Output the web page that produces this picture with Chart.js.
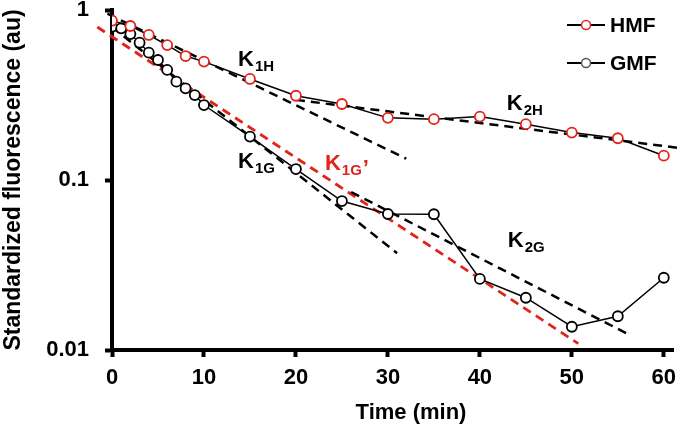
<!doctype html>
<html>
  <head>
    <meta charset="UTF-8">
    <title>Standardized fluorescence</title>
    <style>
      html, body { margin: 0; padding: 0; background: #fff; }
    </style>
  </head>
  <body>
    <canvas id="myChart" width="685" height="429"></canvas>

    <script src="https://cdn.jsdelivr.net/npm/chart.js@4.4.1/dist/chart.umd.min.js"></script>
    <script>
      // measured points (time in min, standardized fluorescence)
      var time_h = [0, 2, 4, 6, 8, 10, 15, 20, 25, 30, 35, 40, 45, 50, 55, 60];
      var hmf = [0.865, 0.805, 0.713, 0.622, 0.536, 0.497, 0.393, 0.313, 0.280, 0.232, 0.228, 0.236, 0.213, 0.190, 0.176, 0.139];

      var time_g = [0, 1, 2, 3, 4, 5, 6, 7, 8, 9, 10, 15, 20, 25, 30, 35, 40, 45, 50, 55, 60];
      var gmf = [0.797, 0.780, 0.722, 0.642, 0.561, 0.508, 0.444, 0.379, 0.346, 0.316, 0.276, 0.180, 0.116, 0.0752, 0.0631, 0.0629, 0.0262, 0.0203, 0.0137, 0.0158, 0.0266];

      // fitted decay lines (two end points each)
      var k1h_time = [-0.5, 32];
      var k1h_vals = [0.951, 0.1334];
      var k2h_time = [20, 62];
      var k2h_vals = [0.296, 0.1535];
      var k1g_time = [0, 31];
      var k1g_vals = [0.794, 0.0371];
      var k2g_time = [26, 56.3];
      var k2g_vals = [0.085, 0.01225];
      var k1gp_time = [-1.6, 50.7];
      var k1gp_vals = [0.794, 0.0109];

      var x_ticks = [0, 10, 20, 30, 40, 50, 60];
      var y_ticks = [0.01, 0.1, 1];
      var y_tick_labels = ['0.01', '0.1', '1'];

      var RED = '#e2231a';
      var FONT = '"Liberation Sans", Arial, sans-serif';
      Chart.defaults.font.family = FONT;

      function pts(xs, ys){
        return xs.map(function(x, i){ return {x: x, y: ys[i]}; });
      }

      function fitLine(xs, ys, color, width){
        return {
          data: pts(xs, ys),
          borderColor: color,
          borderWidth: width,
          borderDash: [9, 6],
          pointRadius: 0,
          fill: false,
          clip: false
        };
      }

      // K labels, legend and x title
      var extras = {
        id: 'extras',
        afterDatasetsDraw: function(chart){
          var ctx = chart.ctx;
          var xs = chart.scales.x, ys = chart.scales.y;
          var labels = [
            {sub: '1H', t: 13.7, v: 0.4685, c: '#000'},
            {sub: '2H', t: 42.93, v: 0.258, c: '#000'},
            {sub: '1G', t: 13.7, v: 0.1177, c: '#000'},
            {sub: '2G', t: 43.04, v: 0.0403, c: '#000'},
            {sub: '1G', t: 23.15, v: 0.1145, c: RED, prime: true}
          ];
          ctx.save();
          ctx.textBaseline = 'alphabetic';
          ctx.textAlign = 'left';
          labels.forEach(function(l){
            var px = xs.getPixelForValue(l.t);
            var py = ys.getPixelForValue(l.v);
            ctx.fillStyle = l.c;
            ctx.font = 'bold 22px ' + FONT;
            ctx.fillText('K', px, py);
            var kw = ctx.measureText('K').width;
            ctx.font = 'bold 15px ' + FONT;
            ctx.fillText(l.sub, px + kw + 1, py + 5);
            var sw = ctx.measureText(l.sub).width;
            if(l.prime){
              ctx.font = 'bold 22px ' + FONT;
              ctx.fillText('\u2019', px + kw + sw + 2, py + 5);
            }
          });

          // legend
          var items = [
            {text: 'HMF', color: RED, y: 25},
            {text: 'GMF', color: '#555', y: 63}
          ];
          items.forEach(function(it){
            ctx.strokeStyle = '#000';
            ctx.lineWidth = 2;
            ctx.beginPath();
            ctx.moveTo(567, it.y);
            ctx.lineTo(605, it.y);
            ctx.stroke();
            ctx.beginPath();
            ctx.arc(586, it.y, 4.5, 0, Math.PI * 2);
            ctx.fillStyle = '#fff';
            ctx.fill();
            ctx.lineWidth = 1.5;
            ctx.strokeStyle = it.color;
            ctx.stroke();
            ctx.fillStyle = '#000';
            ctx.font = 'bold 21px ' + FONT;
            ctx.textBaseline = 'middle';
            ctx.fillText(it.text, 610, it.y + 1);
          });

          // x axis title
          ctx.font = 'bold 22px ' + FONT;
          ctx.textAlign = 'center';
          ctx.textBaseline = 'middle';
          ctx.fillStyle = '#000';
          ctx.fillText('Time (min)', 411, 413);
          ctx.restore();
        }
      };

      var ctx = document.getElementById('myChart');
      var myChart = new Chart(ctx, {
        type: 'line',
        data: {
          datasets: [
            {
              label: 'HMF',
              data: pts(time_h, hmf),
              borderColor: '#000',
              borderWidth: 1.5,
              pointRadius: 5,
              pointBorderWidth: 1.8,
              pointBackgroundColor: '#fff',
              pointBorderColor: RED,
              fill: false
            },
            {
              label: 'GMF',
              data: pts(time_g, gmf),
              borderColor: '#000',
              borderWidth: 1.5,
              pointRadius: 5,
              pointBorderWidth: 1.8,
              pointBackgroundColor: '#fff',
              pointBorderColor: '#000',
              fill: false
            },
            fitLine(k1h_time, k1h_vals, '#000', 2.5),
            fitLine(k2h_time, k2h_vals, '#000', 2.5),
            fitLine(k1g_time, k1g_vals, '#000', 2.5),
            fitLine(k2g_time, k2g_vals, '#000', 2.5),
            fitLine(k1gp_time, k1gp_vals, RED, 2.8)
          ]
        },
        options: {
          responsive: false,
          animation: false,
          layout: { padding: { top: 10, right: 12, left: 0, bottom: 0 } },
          plugins: {
            legend: { display: false },
            tooltip: { enabled: false }
          },
          scales: {
            x: {
              type: 'linear',
              min: 0,
              max: 61,
              afterBuildTicks: function(scale){
                scale.ticks = x_ticks.map(function(v){ return {value: v}; });
              },
              afterFit: function(scale){
                scale.height = 79;
                scale.paddingLeft = 0;
                scale.paddingRight = 0;
              },
              border: { color: '#000', width: 4 },
              grid: { drawOnChartArea: false, drawTicks: true, tickLength: 7, tickWidth: 4, tickColor: '#000' },
              ticks: {
                color: '#000',
                padding: 8,
                maxRotation: 0,
                font: { size: 22, weight: 'bold' }
              }
            },
            y: {
              type: 'logarithmic',
              min: 0.01,
              max: 1,
              afterBuildTicks: function(scale){
                scale.ticks = y_ticks.map(function(v){ return {value: v}; });
              },
              afterFit: function(scale){
                scale.width = 112;
                scale.paddingTop = 0;
                scale.paddingBottom = 0;
              },
              border: { color: '#000', width: 4 },
              grid: { drawOnChartArea: false, drawTicks: true, tickLength: 7, tickWidth: 4, tickColor: '#000' },
              ticks: {
                color: '#000',
                padding: 16,
                font: { size: 22, weight: 'bold' },
                callback: function(value){
                  var i = y_ticks.indexOf(value);
                  return i >= 0 ? y_tick_labels[i] : '';
                }
              },
              title: {
                display: true,
                text: 'Standardized fluorescence (au)',
                color: '#000',
                padding: { top: 0, bottom: 0 },
                font: { size: 23, weight: 'bold' }
              }
            }
          }
        },
        plugins: [extras]
      });
    </script>
  </body>
</html>
